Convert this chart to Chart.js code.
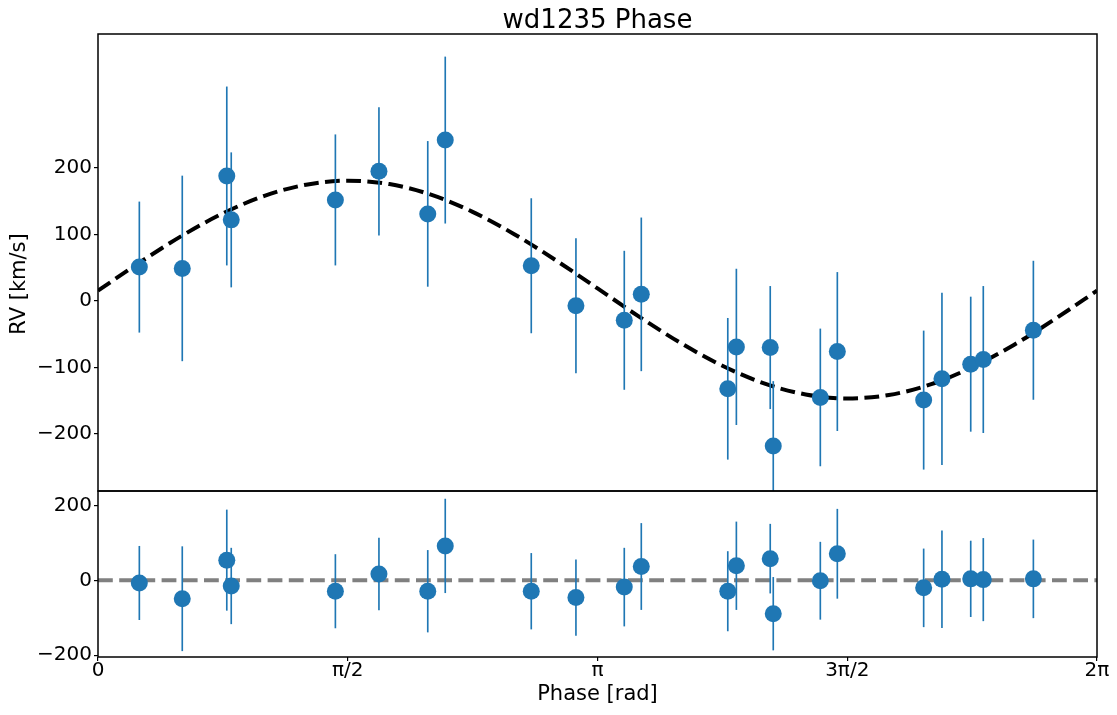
<!DOCTYPE html>
<html>
<head>
<meta charset="utf-8">
<script src="https://cdn.jsdelivr.net/npm/chart.js@4"></script>
<style>
  body { margin: 0; background: #fff; }
  #wrap { position: relative; width: 1117px; height: 715px; }
  canvas { position: absolute; left: 0; }
</style>
</head>
<body>
<div id="wrap">
  <canvas id="rvchart" width="1117" height="505" style="top:0"></canvas>
  <canvas id="reschart" width="1117" height="238" style="top:477px"></canvas>
</div>
<script>
// observed points (phase in rad, RV and residual in km/s)
const phase = [0.260, 0.530, 0.810, 0.838, 1.493, 1.767, 2.074, 2.184, 2.725, 3.006, 3.310, 3.417,
    3.961, 4.015, 4.228, 4.247, 4.543, 4.650, 5.193, 5.308, 5.489, 5.568, 5.883];
const rv = [51, 49, 188, 122, 152, 195, 131, 242, 53, -7, -29, 10,
    -132, -69, -70, -218, -145, -76, -149, -117, -95, -88, -44];
const rvErr = [98, 139, 134, 101, 98, 96, 109, 125, 101, 101, 104, 115,
    106, 117, 92, 97, 103, 119, 104, 129, 101, 110, 104];
const resid = [-7, -49, 54, -15, -29, 17, -29, 92, -29, -46, -18, 37,
    -29, 39, 58, -89, -1, 71, -20, 3, 4, 2, 4];

// fitted curve
const modelPhase = [0, 0.262, 0.524, 0.785, 1.047, 1.309, 1.571, 1.833, 2.094, 2.356, 2.618, 2.880,
    3.142, 3.403, 3.665, 3.927, 4.189, 4.451, 4.712, 4.974, 5.236, 5.498, 5.760, 6.021, 6.283];
const modelRv = [15.5, 57.9, 97.6, 131.7, 158.2, 174.9, 180.9, 175.8, 159.9, 134.1, 100.5, 61.2,
    18.9, -23.5, -63.2, -97.3, -123.8, -140.5, -146.5, -141.4, -125.5, -99.7, -66.1, -26.8, 15.5];

const zeroLineX = [0, 6.2832];
const zeroLineY = [0, 0];

const xTickVals = [0, Math.PI / 2, Math.PI, 3 * Math.PI / 2, 2 * Math.PI];
const xTickLabels = ['0', 'π/2', 'π', '3π/2', '2π'];
const rvTicks = [-200, -100, 0, 100, 200];
const resTicks = [-200, 0, 200];

const BLUE = '#1f77b4';
Chart.defaults.font.family = 'DejaVu Sans';
Chart.defaults.color = '#000';

function fmt(v) {
    return v < 0 ? '\u2212' + Math.abs(v) : String(v);
}

// box around the plot area
const frame = {
    id: 'frame',
    afterDraw(chart) {
        const a = chart.chartArea, ctx = chart.ctx;
        ctx.save();
        ctx.strokeStyle = '#000';
        ctx.lineWidth = 1.5;
        ctx.strokeRect(a.left, a.top, a.right - a.left, a.bottom - a.top);
        ctx.restore();
    }
};

const ylabel = {
    id: 'ylabel',
    afterDraw(chart) {
        const ctx = chart.ctx;
        ctx.save();
        ctx.translate(20, 284);
        ctx.rotate(-Math.PI / 2);
        ctx.font = '21px "DejaVu Sans"';
        ctx.fillStyle = '#000';
        ctx.textAlign = 'center';
        ctx.textBaseline = 'middle';
        ctx.fillText('RV [km/s]', 0, 0);
        ctx.restore();
    }
};

function yScale(min, max, ticks) {
    return {
        type: 'linear', min: min, max: max,
        afterBuildTicks: s => { s.ticks = ticks.map(v => ({ value: v })); },
        afterFit: s => { s.width = 98; },
        border: { display: false },
        grid: { drawOnChartArea: false, drawTicks: true, tickLength: 4, color: '#000', lineWidth: 1.2 },
        ticks: { padding: 2, font: { size: 20 }, callback: v => fmt(v) }
    };
}

function errBars(vals) {
    return phase.map((p, i) => ({ x: p, y: [vals[i] - rvErr[i], vals[i] + rvErr[i]] }));
}

function points(vals) {
    return phase.map((p, i) => ({ x: p, y: vals[i] }));
}

var rvChart = new Chart(document.getElementById('rvchart'), {
    type: 'scatter',
    data: {
        datasets: [{
            type: 'scatter',
            data: points(rv),
            pointRadius: 8.5,
            pointBackgroundColor: BLUE,
            pointBorderWidth: 0,
            order: 0
        }, {
            type: 'bar',
            data: errBars(rv),
            backgroundColor: BLUE,
            barThickness: 1,
            grouped: false,
            order: 1
        }, {
            type: 'line',
            data: modelPhase.map((p, i) => ({ x: p, y: modelRv[i] })),
            borderColor: '#000',
            borderWidth: 4,
            borderDash: [14.8, 6.4],
            pointRadius: 0,
            cubicInterpolationMode: 'monotone',
            order: 2
        }]
    },
    options: {
        responsive: false,
        animation: false,
        layout: { padding: { top: 0, right: 20, bottom: 14, left: 0 } },
        plugins: {
            legend: { display: false },
            tooltip: { enabled: false },
            title: {
                display: true,
                fullSize: false,
                text: 'wd1235 Phase',
                color: '#000',
                font: { size: 26, weight: 'normal', lineHeight: 1 },
                padding: { top: 8, bottom: 0 }
            }
        },
        scales: {
            x: { type: 'linear', min: 0, max: 2 * Math.PI, offset: false, display: false },
            y: yScale(-285.7, 401.5, rvTicks)
        }
    },
    plugins: [frame, ylabel]
});

var resChart = new Chart(document.getElementById('reschart'), {
    type: 'scatter',
    data: {
        datasets: [{
            type: 'scatter',
            data: points(resid),
            pointRadius: 8.5,
            pointBackgroundColor: BLUE,
            pointBorderWidth: 0,
            order: 0
        }, {
            type: 'bar',
            data: errBars(resid),
            backgroundColor: BLUE,
            barThickness: 1,
            grouped: false,
            order: 1
        }, {
            type: 'line',
            data: zeroLineX.map((p, i) => ({ x: p, y: zeroLineY[i] })),
            borderColor: '#808080',
            borderWidth: 4,
            borderDash: [14.8, 6.4],
            pointRadius: 0,
            order: 2
        }]
    },
    options: {
        responsive: false,
        animation: false,
        layout: { padding: { top: 14, right: 20, bottom: 0, left: 0 } },
        plugins: {
            legend: { display: false },
            tooltip: { enabled: false }
        },
        scales: {
            x: {
                type: 'linear', min: 0, max: 2 * Math.PI, offset: false,
                afterBuildTicks: s => { s.ticks = xTickVals.map(v => ({ value: v })); },
                afterFit: s => { s.height = 58; },
                border: { display: false },
                grid: { offset: false, drawOnChartArea: false, drawTicks: true, tickLength: 4, color: '#000', lineWidth: 1.2 },
                ticks: {
                    padding: 0, maxRotation: 0, autoSkip: false,
                    font: { size: 20, lineHeight: 1 },
                    callback: (v, i) => xTickLabels[i]
                },
                title: {
                    display: true, text: 'Phase [rad]', color: '#000',
                    font: { size: 21 }, padding: { top: 0, bottom: 8 }
                }
            },
            y: yScale(-204.6, 238.6, resTicks)
        }
    },
    plugins: [frame]
});
</script>
</body>
</html>
